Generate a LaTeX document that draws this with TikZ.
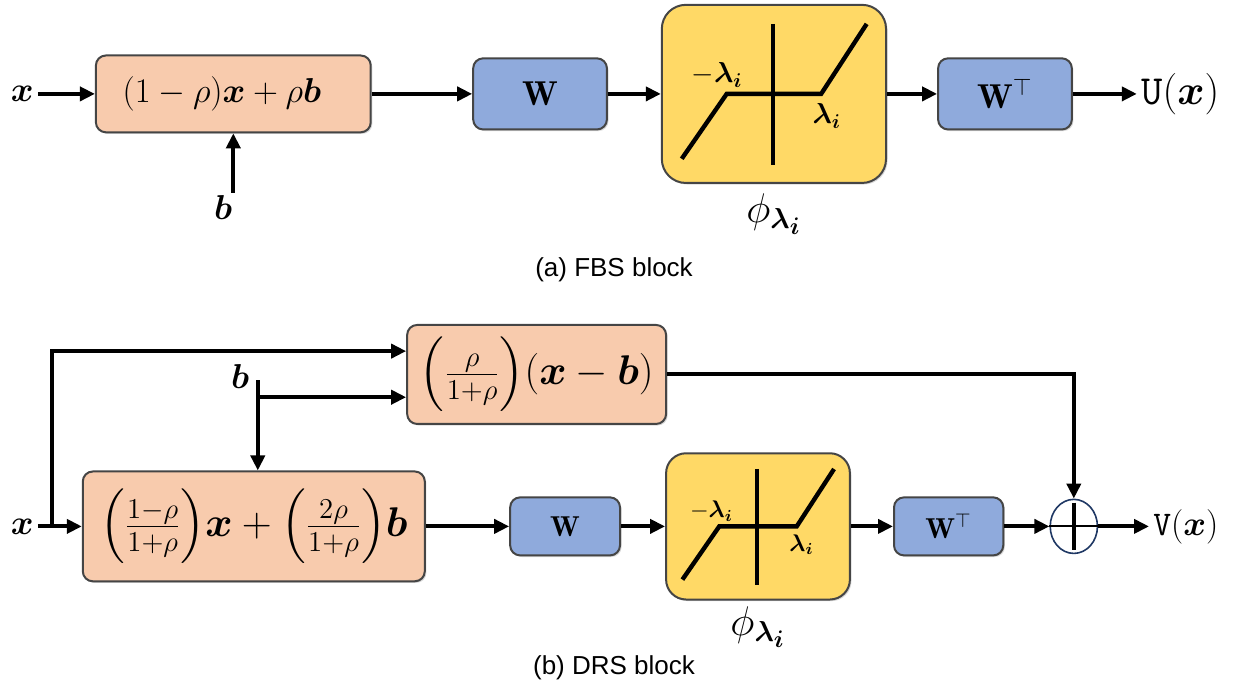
\documentclass[tikz,border=0pt]{standalone}
\usepackage{amsmath, amssymb}
\usepackage{fontspec}
\newfontfamily\capfont{Liberation Sans}
\usetikzlibrary{positioning,calc,arrows.meta,shadows,shapes.geometric}

\definecolor{mixfill}{HTML}{F8CBAD}
\definecolor{linfill}{HTML}{8FAADC}
\definecolor{thrfill}{HTML}{FFD966}
\definecolor{boxline}{HTML}{454545}
\definecolor{sumline}{HTML}{1F3864}

\begin{document}
\begin{tikzpicture}[
    node distance=2cm,
    on grid,
    block/.style={
        draw=boxline,
        line width=1pt,
        rounded corners=5pt,
        inner sep=0pt,
        drop shadow={shadow xshift=0.8pt,shadow yshift=-0.8pt,opacity=0.3}
    },
    mix/.style={block,fill=mixfill},
    lin/.style={block,fill=linfill,minimum width=2.35cm,minimum height=1.25cm,font=\LARGE},
    thr/.style={block,fill=thrfill,rounded corners=12pt},
    sig/.style={inner sep=2pt,font=\LARGE},
    route/.style={
        draw,
        line width=2pt,
        -{Triangle[length=7.5pt,width=7pt]}
    },
    sum/.style={
        draw=sumline,
        line width=0.8pt,
        fill=white,
        ellipse,
        minimum width=0.83cm,
        minimum height=0.95cm,
        inner sep=0pt
    },
    caption/.style={font=\capfont\fontsize{13}{15}\selectfont},
    thresh/.pic={
        \draw[line width=2.2pt] (-0.02,1.23) -- (-0.02,-1.25);
        \draw[line width=2.2pt] (-1.62,-1.14) -- (-0.83,0) -- (0.83,0) -- (1.63,1.23);
        \node (-neg) at (-1.00,0.33) {$-\boldsymbol{\lambda_i}$};
        \node (-pos) at (0.93,-0.39) {$\boldsymbol{\lambda_i}$};
    }
]
    \useasboundingbox (0,0) rectangle (21.755,-12.108);

    % (a) FBS block
    \node[mix,minimum width=4.83cm,minimum height=1.35cm,font=\LARGE] (fbsmix) at (4.10,-1.65)
        {$(1-\rho)\boldsymbol{x}+\rho\boldsymbol{b}\kern0.4cm$};
    \node[lin] (fbsW) [right=5.39cm of fbsmix] {$\mathbf{W}$};
    \node[thr,minimum width=3.94cm,minimum height=3.13cm] (fbsthr) [right=4.11cm of fbsW] {};
    \pic[every node/.style={font=\Large}] (fbscurve) at (fbsthr) {thresh};
    \node[lin] (fbsWt) [right=4.06cm of fbsthr] {$\mathbf{W}^{\top}$};
    \node[sig,font=\huge] (fbsout) [right=3.08cm of fbsWt] {$\mathtt{U}(\boldsymbol{x})$};
    \node[sig] (fbsx) [left=3.71cm of fbsmix] {$\boldsymbol{x}$};
    \node[sig] (fbsb) at (3.92,-3.64) {$\boldsymbol{b}$};
    \coordinate (fbsbin) at (4.10,-3.39);
    \node[font=\huge] (fbsphi) [below=2.11cm of fbsthr] {$\phi_{\boldsymbol{\lambda_i}}$};

    \draw[route] (fbsx) -- (fbsmix);
    \draw[route] (fbsbin) -- (fbsmix.south);
    \draw[route] (fbsmix) -- (fbsW);
    \draw[route] (fbsW) -- (fbsthr);
    \draw[route] (fbsthr) -- (fbsWt);
    \draw[route] (fbsWt) -- (fbsout);

    \node[caption] (capa) at (10.79,-4.74) {(a) FBS block};

    % (b) DRS block
    \node[mix,minimum width=6.01cm,minimum height=1.93cm,font=\huge] (drsmix) at (4.46,-9.25)
        {$\Bigl(\frac{1-\rho}{1+\rho}\Bigr)\boldsymbol{x}+\Bigl(\frac{2\rho}{1+\rho}\Bigr)\boldsymbol{b}$};
    \node[mix,minimum width=4.55cm,minimum height=1.74cm,font=\huge] (drsdiff) at (9.43,-6.58)
        {$\Bigl(\frac{\rho}{1+\rho}\Bigr)(\boldsymbol{x}-\boldsymbol{b})$};
    \node[lin,minimum width=1.93cm,minimum height=1.02cm,font=\Large] (drsW) [right=5.47cm of drsmix] {$\mathbf{W}$};
    \node[thr,minimum width=3.23cm,minimum height=2.57cm,rounded corners=10pt] (drsthr) [right=3.39cm of drsW] {};
    \pic[scale=0.82,every node/.style={font=\large}] (drscurve) at (drsthr) {thresh};
    \node[lin,minimum width=1.92cm,minimum height=1.02cm,font=\Large] (drsWt) [right=3.35cm of drsthr] {$\mathbf{W}^{\top}$};
    \node[sum] (drssum) [right=2.20cm of drsWt] {};
    \node[sig] (drsout) [right=1.97cm of drssum] {$\mathtt{V}(\boldsymbol{x})$};
    \node[sig] (drsx) [left=4.07cm of drsmix] {$\boldsymbol{x}$};
    \node[sig] (drsb) at (4.22,-6.62) {$\boldsymbol{b}$};
    \node[font=\huge] (drsphi) [below=1.77cm of drsthr] {$\phi_{\boldsymbol{\lambda_i}}$};

    % branch points
    \coordinate (drssplit) at (0.91,-9.25);
    \coordinate (drsxtop) at (0.91,-6.17);
    \coordinate (drsbtop) at (4.53,-6.68);
    \coordinate (drsbbr) at (4.53,-6.98);

    % plus sign of the adder
    \draw[line width=1pt] (drssum.west) -- (drssum.east);
    \draw[line width=1.8pt,shorten >=2pt,shorten <=2pt] (drssum.north) -- (drssum.south);

    \draw[route] (drsx) -- (drsmix);
    \draw[route] (drssplit) -- (drsxtop) -- (drsxtop -| drsdiff.west);
    \draw[route] (drsbtop) -- (drsbtop |- drsmix.north);
    \draw[route] (drsbbr) -- (drsbbr -| drsdiff.west);
    \draw[route] (drsmix) -- (drsW);
    \draw[route] (drsW) -- (drsthr);
    \draw[route] (drsthr) -- (drsWt);
    \draw[route] (drsWt) -- (drssum);
    \draw[route] (drssum) -- (drsout);
    \draw[route] (drsdiff) -| (drssum);

    \node[caption] (capb) at (10.79,-11.74) {(b) DRS block};
\end{tikzpicture}
\end{document}
